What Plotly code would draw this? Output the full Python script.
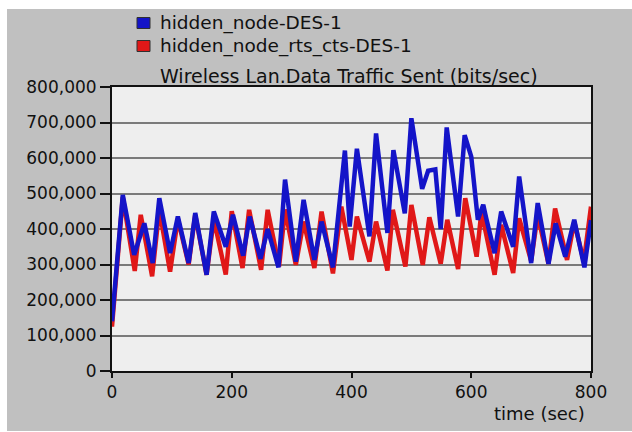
import plotly.graph_objects as go

# Sample times (sec) and traffic values (bits/sec) for each scenario
time_blue = [0, 18, 37, 54, 68, 79, 97, 110, 128, 139, 158, 170, 190, 202, 219, 230,
             248, 260, 278, 289, 307, 320, 338, 350, 369, 379, 389, 397, 409, 430,
             441, 460, 470, 489, 500, 518, 528, 540, 549, 559, 578, 589, 600, 611,
             620, 625, 639, 650, 670, 680, 700, 711, 729, 741, 757, 772, 789, 800]
hidden_node = [140000, 496000, 327000, 416000, 304000, 487000, 332000, 435000,
               304000, 445000, 271000, 449000, 350000, 440000, 325000, 435000,
               316000, 400000, 292000, 539000, 308000, 482000, 313000, 421000,
               292000, 470000, 621000, 407000, 626000, 379000, 669000, 389000,
               622000, 444000, 712000, 513000, 564000, 568000, 400000, 686000,
               435000, 664000, 604000, 426000, 468000, 430000, 332000, 449000,
               350000, 548000, 304000, 473000, 302000, 416000, 322000, 426000,
               292000, 425000]

time_red = [0, 18, 38, 48, 67, 79, 97, 110, 128, 139, 158, 170, 190, 200, 218, 229,
            249, 260, 279, 289, 307, 320, 338, 350, 369, 383, 400, 409, 430, 441,
            460, 469, 490, 500, 519, 530, 549, 560, 578, 590, 609, 617, 639, 650,
            670, 680, 700, 711, 729, 740, 760, 772, 788, 800]
hidden_node_rts_cts = [125000, 490000, 282000, 440000, 267000, 455000, 280000,
                       428000, 300000, 440000, 271000, 428000, 272000, 450000,
                       290000, 454000, 285000, 454000, 294000, 455000, 299000,
                       421000, 290000, 449000, 275000, 463000, 313000, 435000,
                       308000, 421000, 283000, 454000, 294000, 468000, 299000,
                       433000, 302000, 426000, 287000, 487000, 322000, 449000,
                       271000, 412000, 276000, 430000, 310000, 440000, 302000,
                       458000, 313000, 420000, 308000, 463000]

series_names = ["hidden_node-DES-1", "hidden_node_rts_cts-DES-1"]
chart_title = "Wireless Lan.Data Traffic Sent (bits/sec)"
x_ticks = [0, 200, 400, 600, 800]
y_ticks = [0, 100000, 200000, 300000, 400000, 500000, 600000, 700000, 800000]

BLUE = "#1414c8"
RED = "#e01818"
FONT = "DejaVu Sans"

W, H = 632, 432
L, R, T, B = 112, 41, 87, 61
pw, ph = W - L - R, H - T - B


def px_x(p):
    return (p - L) / pw


def px_y(p):
    return (H - B - p) / ph


fig = go.Figure()

fig.add_trace(go.Scatter(x=time_red, y=hidden_node_rts_cts, mode="lines",
                         name=series_names[1],
                         line=dict(color=RED, width=4.5), showlegend=False,
                         hoverinfo="skip"))
fig.add_trace(go.Scatter(x=time_blue, y=hidden_node, mode="lines",
                         name=series_names[0],
                         line=dict(color=BLUE, width=4.5), showlegend=False,
                         hoverinfo="skip"))

shapes = []
# white frame strips around the grey panel
for x0, x1, y0, y1 in [(0, 7, 0, H), (0, W, 0, 9), (0, W, 431, H)]:
    shapes.append(dict(type="rect", xref="paper", yref="paper", layer="below",
                       x0=px_x(x0), x1=px_x(x1), y0=px_y(y1), y1=px_y(y0),
                       fillcolor="white", line=dict(width=0)))

annotations = []
# legend: colour swatch plus series name
for (name, col), cy in zip(zip(series_names, [BLUE, RED]), [23, 46]):
    shapes.append(dict(type="rect", xref="paper", yref="paper",
                       x0=px_x(137), x1=px_x(150), y0=px_y(cy + 5.5),
                       y1=px_y(cy - 5.5), fillcolor=col,
                       line=dict(color="#303030", width=1)))
    annotations.append(dict(text=name, xref="paper", yref="paper", x=px_x(158),
                            y=px_y(cy), xanchor="left", yanchor="middle",
                            showarrow=False, font=dict(size=18.5)))

annotations.append(dict(text=chart_title, xref="paper", yref="paper",
                        x=px_x(349), y=px_y(76), xanchor="center",
                        yanchor="middle", showarrow=False, font=dict(size=19)))
annotations.append(dict(text="time (sec)", xref="paper", yref="paper",
                        x=px_x(539), y=px_y(413), xanchor="center",
                        yanchor="middle", showarrow=False, font=dict(size=18)))

fig.update_layout(
    width=W, height=H,
    margin=dict(l=L, r=R, t=T, b=B),
    paper_bgcolor="#c0c0c0",
    plot_bgcolor="#eeeeee",
    font=dict(family=FONT, size=17, color="#111111"),
    shapes=shapes,
    annotations=annotations,
    showlegend=False,
)

fig.update_xaxes(range=[0, 800], tickvals=x_ticks, showgrid=False, zeroline=False,
                 showline=True, mirror=True, linecolor="#111111", linewidth=2,
                 ticks="outside", ticklen=5, tickcolor="#111111", tickwidth=1.5,
                 tickfont=dict(size=17))
fig.update_yaxes(range=[0, 800000], tickvals=y_ticks, tickformat=",d",
                 showgrid=True, gridcolor="#7a7a7a", gridwidth=1.5, zeroline=False,
                 showline=True, mirror=True, linecolor="#111111", linewidth=2,
                 ticks="outside", ticklen=10, tickcolor="#111111", tickwidth=1.5,
                 tickfont=dict(size=17))

fig.write_html("out.html")
